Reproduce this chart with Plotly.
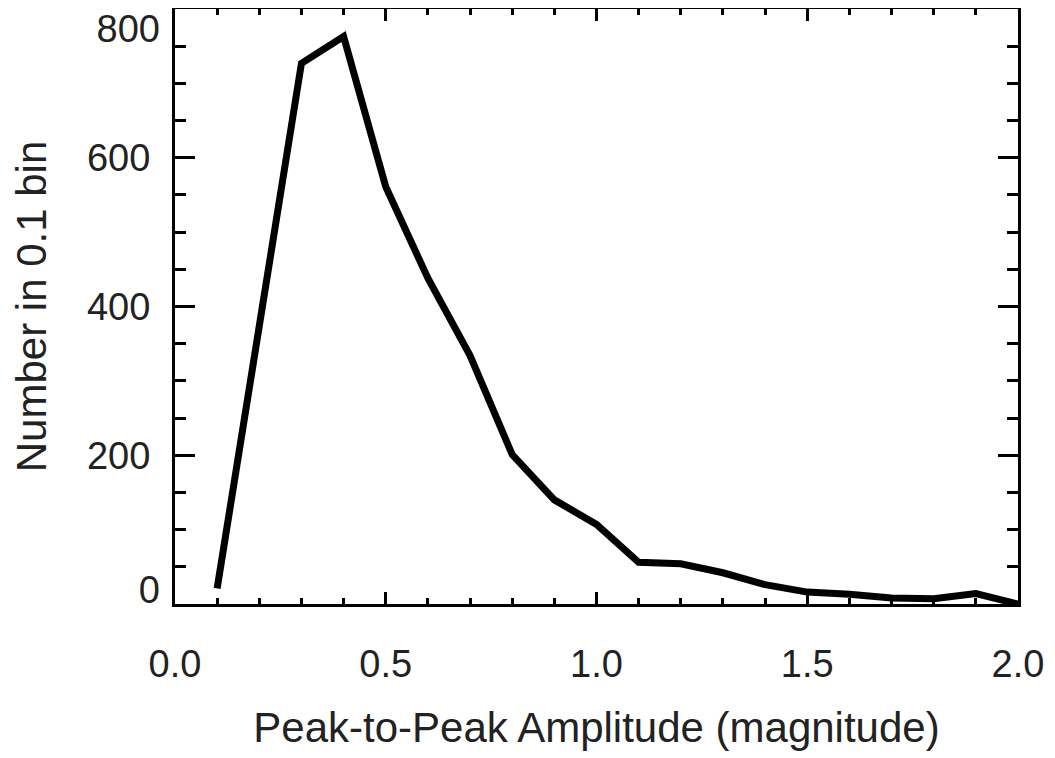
import plotly.graph_objects as go

# amplitude bins (magnitude) and counts per 0.1 bin
amplitude = [0.1, 0.2, 0.3, 0.4, 0.5, 0.6, 0.7, 0.8, 0.9, 1.0,
             1.1, 1.2, 1.3, 1.4, 1.5, 1.6, 1.7, 1.8, 1.9, 2.0]
counts = [21, 375, 727, 763, 561, 438, 334, 201, 140, 107,
          56, 54, 42, 26, 16, 13, 8, 7, 14, 0]

x_ticks = [0.0, 0.5, 1.0, 1.5, 2.0]
x_labels = ["0.0", "0.5", "1.0", "1.5", "2.0"]
y_ticks = [0, 200, 400, 600, 800]
y_labels = ["", "200", "400", "600", ""]

fig = go.Figure()
fig.add_trace(go.Scatter(x=amplitude, y=counts, mode="lines",
                         line=dict(color="black", width=7), cliponaxis=False))
# eixos extras só para os rótulos das pontas (deslocados para dentro, estilo IDL)
fig.add_trace(go.Scatter(x=[], y=[], yaxis="y2", showlegend=False))
fig.add_trace(go.Scatter(x=[], y=[], yaxis="y3", showlegend=False))

fonte = dict(family="Liberation Sans, Arial, sans-serif", size=38, color="#222")
fonte_titulo = dict(family="Liberation Sans, Arial, sans-serif", size=42, color="#222")

fig.update_xaxes(range=[0, 2], tickvals=x_ticks, ticktext=x_labels,
                 ticks="inside", ticklen=12, tickwidth=2.5, tickcolor="black",
                 minor=dict(dtick=0.1, ticks="inside", ticklen=6, tickwidth=2.5, tickcolor="black"),
                 showline=True, linewidth=3, linecolor="black", mirror="ticks",
                 showgrid=False, zeroline=False, tickfont=fonte, ticklabelstandoff=24,
                 automargin=False,
                 title=dict(text="Peak-to-Peak Amplitude (magnitude)", font=fonte_titulo, standoff=30))

eixo_y = dict(range=[0, 800], showgrid=False, zeroline=False, tickfont=fonte,
              ticklabelstandoff=14, ticklabeloverflow="allow", automargin=False)
fig.update_layout(
    yaxis=dict(eixo_y, tickvals=y_ticks, ticktext=y_labels,
               ticks="inside", ticklen=20, tickwidth=2.5, tickcolor="black",
               minor=dict(dtick=50, ticks="inside", ticklen=11, tickwidth=2.5, tickcolor="black"),
               showline=True, linewidth=3, linecolor="black", mirror="ticks",
               title=dict(text="Number in 0.1 bin", font=fonte_titulo, standoff=36)),
    yaxis2=dict(eixo_y, overlaying="y", side="left", tickvals=[y_ticks[0]],
                ticktext=[str(y_ticks[0])], ticks="", showline=False, ticklabelshift=-14),
    yaxis3=dict(eixo_y, overlaying="y", side="left", tickvals=[y_ticks[-1]],
                ticktext=[str(y_ticks[-1])], ticks="", showline=False, ticklabelshift=20),
)

fig.update_layout(width=1047, height=751, plot_bgcolor="white", paper_bgcolor="white",
                  showlegend=False, margin=dict(l=167, r=37, t=1, b=155))

fig.write_html("out.html")
